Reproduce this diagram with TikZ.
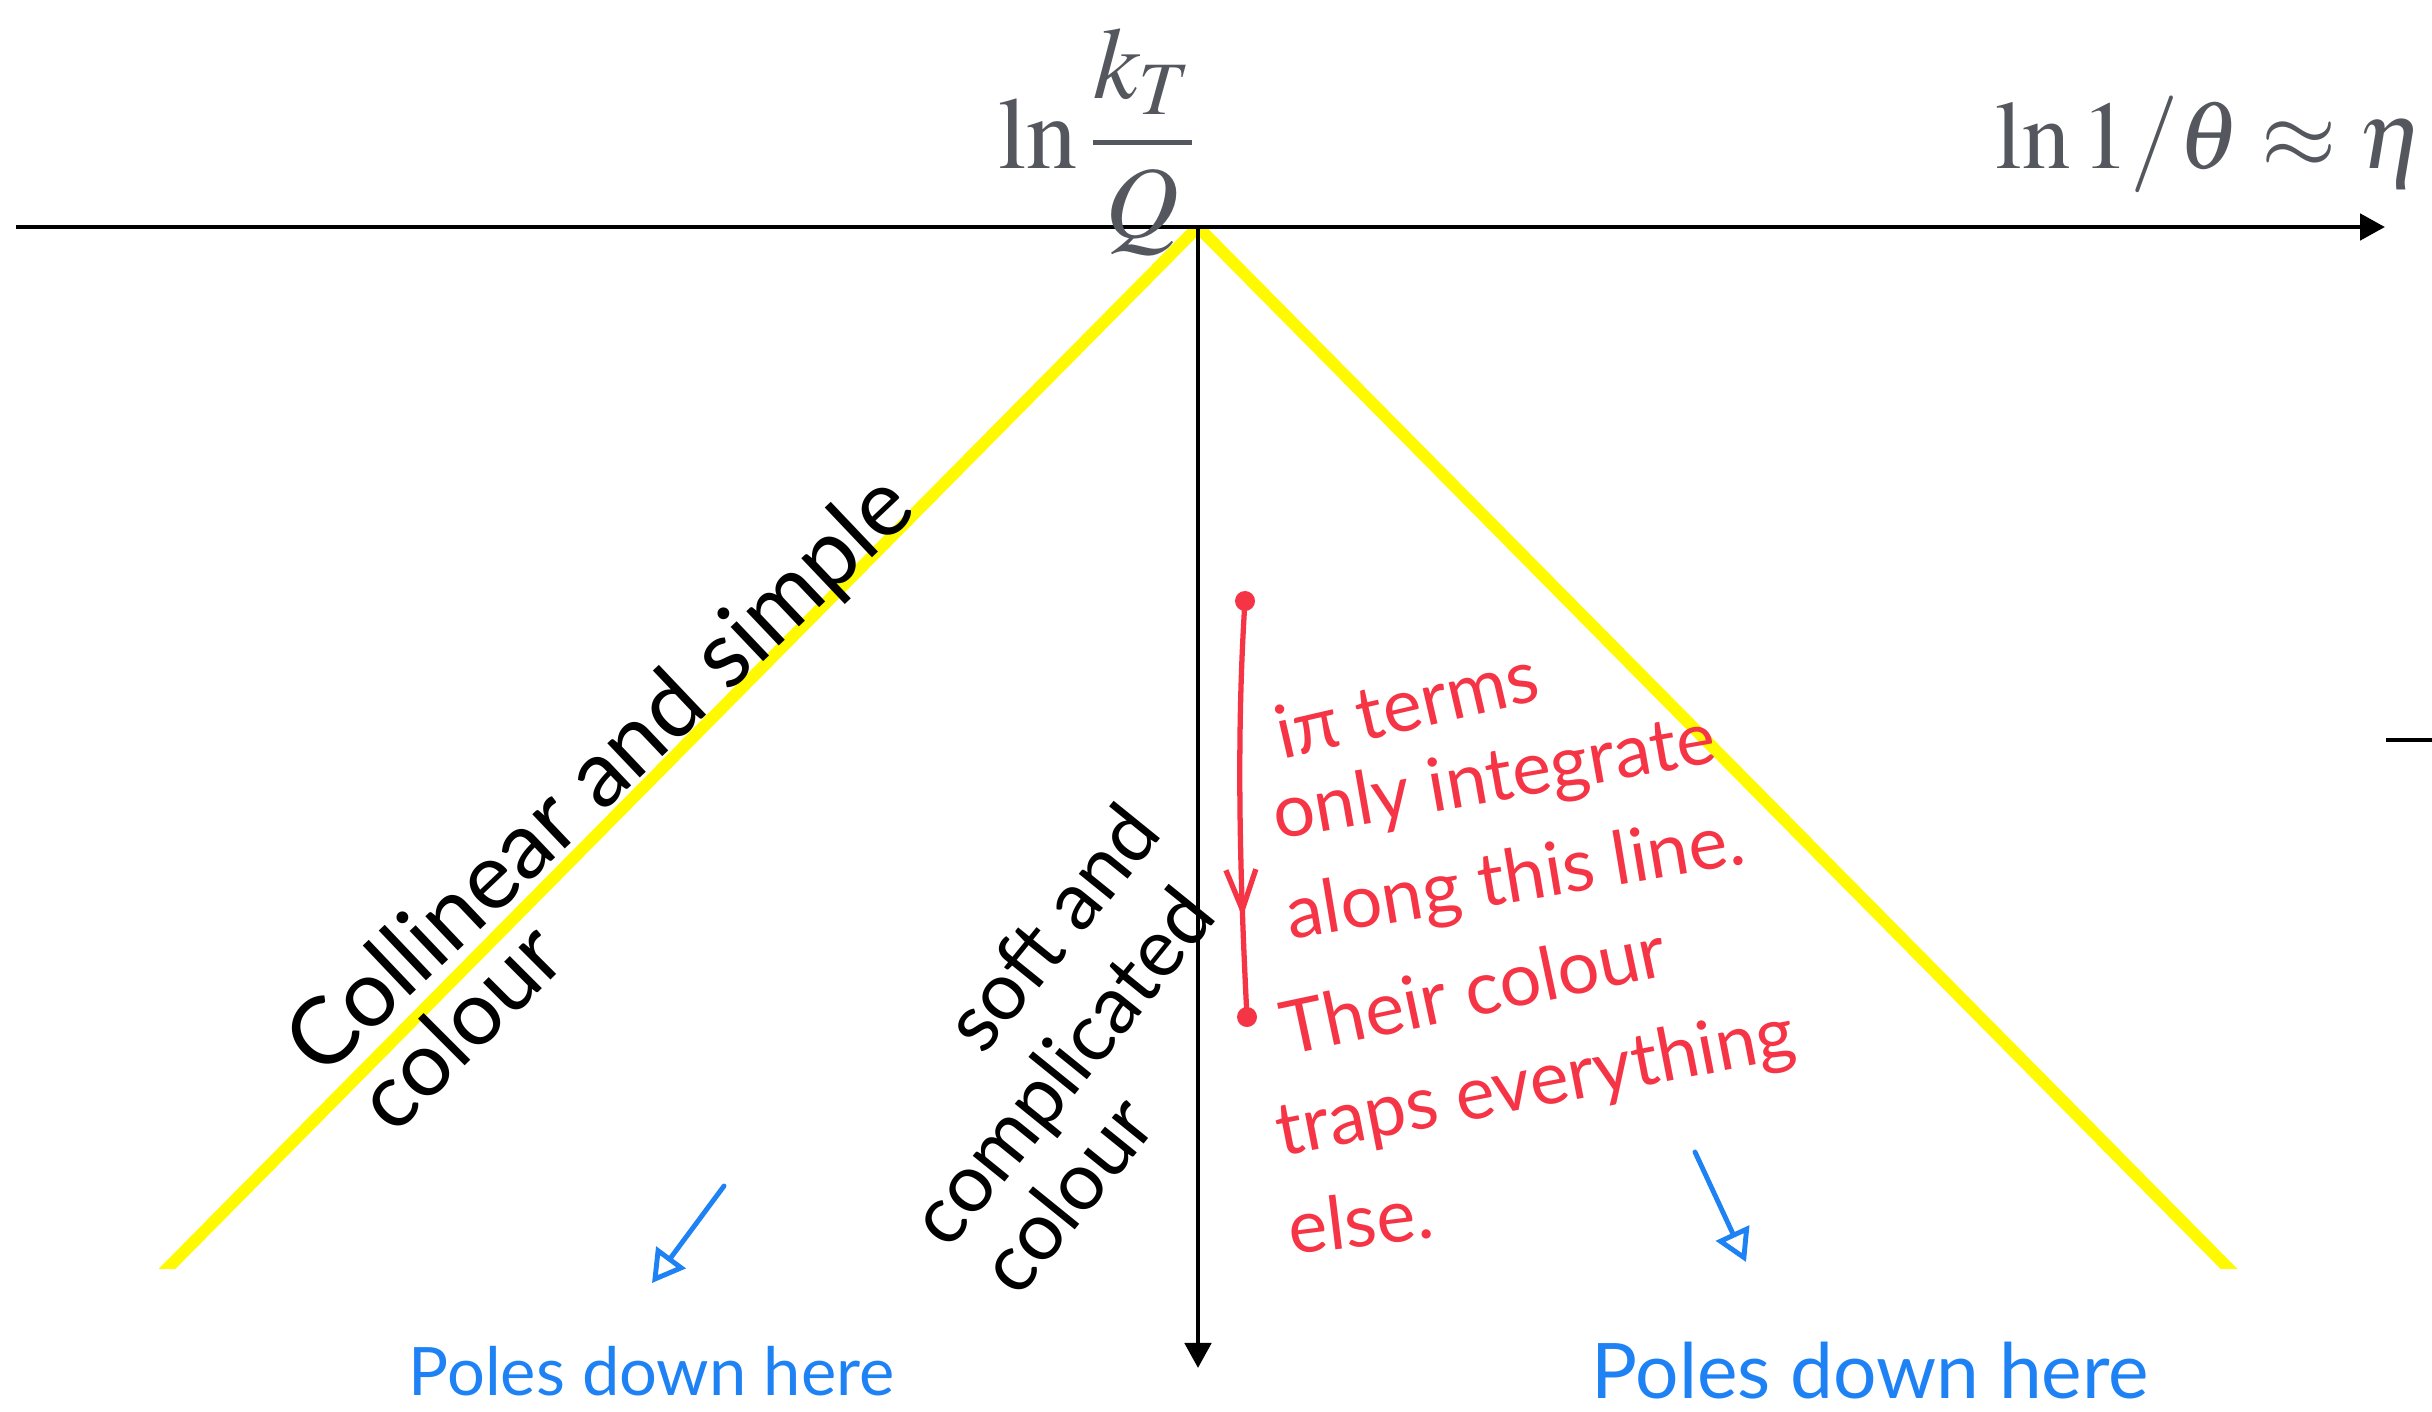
\documentclass[tikz,border=0pt]{standalone}
\usepackage{mathptmx}
\usepackage{fontspec}
\usetikzlibrary{arrows.meta, decorations.markings}
\newfontfamily\handfont{Lato}
\definecolor{axisgray}{RGB}{84,88,94}
\definecolor{conecolor}{RGB}{255,250,0}
\definecolor{redink}{RGB}{245,52,70}
\definecolor{blueink}{RGB}{30,130,245}
\tikzset{
  axis/.style={line width=1.4pt, -{Triangle[length=0.25cm, width=0.26cm]}},
  lightcone/.style={line width=3.4pt, conecolor},
  label/.style={text=axisgray, inner sep=0pt, font=\fontsize{29}{34}\selectfont},
  hand/.style={inner sep=0pt, font=\handfont\fontsize{25.5}{30}\selectfont},
  softhand/.style={hand, font=\handfont\fontsize{23}{28}\selectfont},
  redhand/.style={hand, text=redink, anchor=base west, font=\handfont\fontsize{21}{25}\selectfont},
  bluehand/.style={hand, text=blueink, anchor=base west},
  dot/.style={circle, fill=redink, inner sep=0pt, minimum size=0.2cm},
  polearrow/.style={blueink, line width=1.4pt, line cap=round, -{Triangle[open, length=0.32cm, width=0.36cm]}},
}

\begin{document}
\begin{tikzpicture}[x=0.01cm, y=-0.01cm]
\useasboundingbox (0,0) rectangle (2432,1412);

% Axis points
\coordinate (origin) at (1198,227);
\coordinate (xstart) at (16,227);
\coordinate (xend) at (2385,227);
\coordinate (yend) at (1198,1368);

% Yellow lines
\begin{scope}
\clip (0,228) rectangle (2432,1268);
\draw[lightcone] (158,1278) -- (origin) -- (2238,1278);
\end{scope}

% Axes
\draw[axis] (xstart) -- (xend);
\draw[axis] (origin) -- (yend);
\coordinate (tickA) at (2386,740);
\coordinate (tickB) at (2432,740);
\draw[line width=1.2pt] (tickA) -- (tickB);

% Axis labels
\node[label, anchor=base] (ktq) at (1097,168) {$\displaystyle\ln\frac{k_T}{Q}$};
\node[label, anchor=base west, font=\fontsize{27.5}{32}\selectfont] (eta) at (1995,168) {$\ln 1/\theta \approx \eta$};

% Black notes
\node[hand, anchor=base west, rotate=43.5, font=\handfont\fontsize{26.5}{31}\selectfont] (collinear) at (322,1080) {Collinear and simple};
\node[hand, anchor=base west, rotate=45] (colourL) at (394,1137) {colour};
\node[softhand, rotate=51] (soft) at (1051,927) {soft and};
\node[softhand, rotate=51] (complicated) at (1066,1070) {complicated};
\node[softhand, rotate=51] (colourS) at (1066,1194) {colour};

% Red note
\node[dot] (itop) at (1245,601) {};
\node[dot] (ibot) at (1247,1017) {};
\draw[redink, line width=1.5pt, postaction=decorate,
  decoration={markings, mark=at position 0.76 with {\arrow{Straight Barb[length=0.4cm, width=0.3cm]}}}]
  (itop.center) .. controls (1236,740) and (1240,880) .. (ibot.center);
\node[redhand, rotate=13] (ipi) at (1282,760) {iπ terms};
\node[redhand, rotate=10] (only) at (1277,840) {only integrate};
\node[redhand, rotate=9.5] (along) at (1290,940) {along this line.};
\node[redhand, rotate=12] (their) at (1287,1056) {Their colour};
\node[redhand, rotate=11] (traps) at (1281,1157) {traps everything};
\node[redhand, rotate=7] (else) at (1291,1255) {else.};

% Blue notes
\coordinate (lpoleFrom) at (724,1186);
\coordinate (lpoleTo) at (652,1283);
\coordinate (rpoleFrom) at (1695,1152);
\coordinate (rpoleTo) at (1746,1262);
\draw[polearrow] (lpoleFrom) -- (lpoleTo);
\draw[polearrow] (rpoleFrom) -- (rpoleTo);
\node[bluehand, font=\handfont\fontsize{19}{23}\selectfont] (lpoles) at (408,1395) {Poles down here};
\node[bluehand, font=\handfont\fontsize{21.8}{26}\selectfont] (rpoles) at (1591,1398) {Poles down here};
\end{tikzpicture}
\end{document}
